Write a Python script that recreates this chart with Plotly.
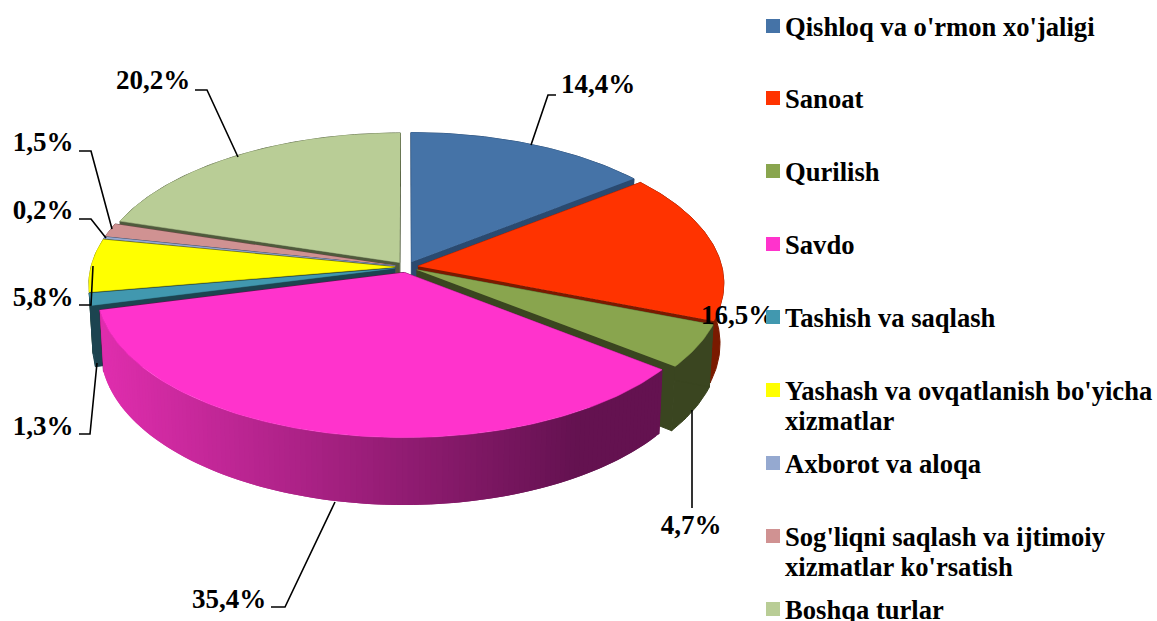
import numpy as np
import plotly.graph_objects as go

# --- data -------------------------------------------------------------
categories = ["Qishloq va o'rmon xo'jaligi", "Sanoat", "Qurilish", "Savdo", "Tashish va saqlash",
              "Yashash va ovqatlanish bo'yicha<br>xizmatlar", "Axborot va aloqa",
              "Sog'liqni saqlash va ijtimoiy<br>xizmatlar ko'rsatish", "Boshqa turlar"]
values = [14.4, 16.5, 4.7, 35.4, 1.3, 5.8, 0.2, 1.5, 20.2]
top_colors = ["#4573A7", "#FF3300", "#89A54E", "#FF33CC", "#4198AF", "#FFFF00", "#95A9D0", "#D09292", "#B9CD96"]
side_colors = ["#2A4A70", "#7A1A00", "#3A4520", "#66124F", "#1C4450", "#808000", "#4A5A78", "#6E4A4A", "#4F5A3C"]

# --- layout helpers (pixels) -------------------------------------------
legend_y = [26, 98, 171, 244, 317, 390, 463, 536, 609]
label_pos = {0: (598, 86), 1: (738, 317), 2: (691, 527), 3: (229, 601), 4: (43, 428),
             5: (43, 299), 6: (43, 212), 7: (43, 144), 8: (153, 82)}
leaders = [[(531, 145), (548, 95), (556, 95)],
           [(692, 410), (692, 508)],
           [(335, 502), (285, 607), (271, 607)],
           [(97, 363), (90, 434), (79, 434)],
           [(93, 266), (91, 305), (79, 305)],
           [(106, 238), (91, 219), (79, 219)],
           [(112, 229), (91, 151), (79, 151)],
           [(238, 157), (207, 90), (195, 90)]]
FONT = "Liberation Serif"
CX, CY, RX, RY, K, H, D = 406.5, 267, 304, 145.2, 0.113, 59.5, 0.038


def project(X, Y, z=0.0):
    s = 1 / (1 - K * Y)
    return CX + RX * s * X * (1 - 0.012 * z), CY + RY * s * Y + H * s * z


def poly(xs, ys, color, width=0.5):
    return go.Scatter(x=list(xs), y=list(ys), mode="lines", fill="toself", fillcolor=color,
                      line=dict(color=color, width=width), hoverinfo="skip", showlegend=False)


def lerp_pink(x):
    t = min(max((x - 100) / 480, 0), 1)
    a, b = np.array([224, 46, 174]), np.array([100, 18, 80])
    c = a + (b - a) * t
    return "rgb(%d,%d,%d)" % tuple(c)


def add_cut_faces(i, a0, a1, ox, oy):
    for a in (a0, a1):
        rx, ry = ox + np.sin(a), oy - np.cos(a)
        p = [project(ox, oy), project(rx, ry), project(rx, ry, 1), project(ox, oy, 1)]
        fig.add_trace(poly([q[0] for q in p], [q[1] for q in p], side_colors[i], width=1))


fig = go.Figure()
total = sum(values)
edges = np.concatenate([[0], np.cumsum(values)]) / total * 2 * np.pi
geo = []
for i in range(len(values)):
    a0, a1 = edges[i], edges[i + 1]
    mid = (a0 + a1) / 2
    geo.append((a0, a1, D * np.sin(mid), -D * np.cos(mid)))

# painter's order: back slices first, front slice last
order = [8, 7, 6, 5, 4, 0, 1, 2, 3]
for i in order:
    a0, a1, ox, oy = geo[i]
    th = np.linspace(a0, a1, max(4, int((a1 - a0) * 60)))
    X, Y = ox + np.sin(th), oy - np.cos(th)
    tx, ty = project(X, Y)
    bx, by = project(X, Y, 1)
    if i == 3:
        # the large slice: cut faces sit behind its shaded outer wall
        add_cut_faces(i, a0, a1, ox, oy)
        n = len(th)
        # strips run right to left; each overlaps its neighbour so no seam shows
        for j in range(n - 1):
            k = min(j + 2, n - 1)
            fig.add_trace(poly([tx[j], tx[k], bx[k], bx[j]], [ty[j], ty[k], by[k], by[j]],
                               lerp_pink((tx[j] + tx[j + 1]) / 2), width=0))
    else:
        fig.add_trace(poly(np.r_[tx, bx[::-1]], np.r_[ty, by[::-1]], side_colors[i], width=1))
        add_cut_faces(i, a0, a1, ox, oy)
    # top face
    px, py = project(np.r_[ox, X], np.r_[oy, Y])
    fig.add_trace(poly(px, py, top_colors[i]))

# leader lines
for pts in leaders:
    fig.add_trace(go.Scatter(x=[p[0] for p in pts], y=[p[1] for p in pts], mode="lines",
                             line=dict(color="#000000", width=1.6), hoverinfo="skip", showlegend=False))

# percentage labels
fig.add_trace(go.Scatter(x=[label_pos[i][0] for i in range(len(values))],
                         y=[label_pos[i][1] for i in range(len(values))],
                         mode="text", text=[f"{v:.1f}%".replace(".", ",") for v in values],
                         textposition="middle center",
                         textfont=dict(family=FONT, size=27, color="#000000", weight="bold"),
                         hoverinfo="skip", showlegend=False))

# legend
fig.add_trace(go.Scatter(x=[773] * len(categories), y=legend_y, mode="markers",
                         marker=dict(symbol="square", size=14, color=top_colors, line=dict(width=0)),
                         hoverinfo="skip", showlegend=False))
lx, ly, lt = [], [], []
for name, yy in zip(categories, legend_y):
    for n, part in enumerate(name.split("<br>")):
        lx.append(785)
        ly.append(yy + 3 + 30 * n)
        lt.append(part)
fig.add_trace(go.Scatter(x=lx, y=ly, mode="text", text=lt, textposition="middle right",
                         textfont=dict(family=FONT, size=26.6, color="#000000", weight="bold"),
                         hoverinfo="skip", showlegend=False, cliponaxis=False))

fig.update_layout(width=1157, height=621, margin=dict(l=0, r=0, t=0, b=0),
                  paper_bgcolor="#FFFFFF", plot_bgcolor="#FFFFFF",
                  xaxis=dict(range=[0, 1157], visible=False, fixedrange=True),
                  yaxis=dict(range=[621, 0], visible=False, fixedrange=True))
fig.write_html("out.html", config={"displayModeBar": False}, default_width="1157px", default_height="621px",
               post_script="document.body.style.margin='0';document.documentElement.style.overflow='hidden';")
